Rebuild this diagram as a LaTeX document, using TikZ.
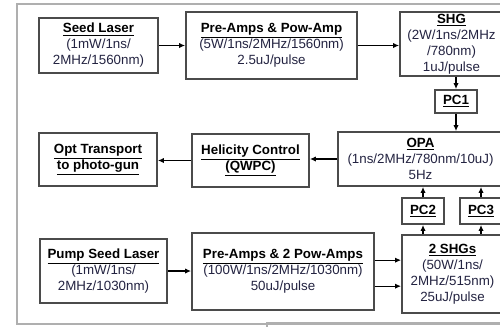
\documentclass[tikz,border=0pt]{standalone}
\usepackage{fontspec}
\setmainfont{Liberation Sans}
\usetikzlibrary{arrows.meta, positioning}
\definecolor{boxgray}{RGB}{75,75,75}
\definecolor{framegray}{RGB}{175,175,175}
\definecolor{spectext}{RGB}{35,35,65}

\newcommand{\hd}[1]{\textbf{\underline{#1}}}

\begin{document}
\begin{tikzpicture}[
			x=0.75pt, y=-0.75pt,
			stage/.style={rectangle, draw=boxgray, line width=1.3pt, fill=white, inner sep=0pt, align=center, text=spectext, font=\fontsize{10}{12}\selectfont},
			arrow/.style={-{Latex[length=1.6mm, width=1.4mm]}, line width=1pt}
			]
			\clip (0,0) rectangle (500,326);
			\useasboundingbox (0,0) rectangle (500,326);
			\draw[framegray, line width=1.2pt] (17,4) rectangle (530,324);
			\draw[framegray, line width=1pt] (267,323) rectangle (530,345);
			
			% upper chain (1560 nm)
			\node[stage, minimum width=89.25pt, minimum height=41.25pt] (seed) at (98.5,45.5) {\textcolor{black}{\hd{Seed Laser}}\\(1mW/1ns/\\2MHz/1560nm)};
			\node[stage, minimum width=128.25pt, minimum height=50.25pt] (preamp) at (271.5,45.5) {\textcolor{black}{\hd{Pre-Amps \& Pow-Amp}}\\(5W/1ns/2MHz/1560nm)\\2.5uJ/pulse};
			\node[stage, minimum width=77.25pt, minimum height=48pt] (shg) at (451.5,44) {\textcolor{black}{\hd{SHG}}\\(2W/1ns/2MHz\\/780nm)\\1uJ/pulse};
			\node[stage, minimum width=31.5pt, minimum height=17.25pt] (pc1) at (456,101.5) {\textcolor{black}{\hd{PC1}}};
			
			% middle row
			\node[stage, minimum width=123.75pt, minimum height=40.5pt] (opa) at (420.5,159) {\textcolor{black}{\hd{OPA}}\\(1ns/2MHz/780nm/10uJ)\\5Hz};
			\node[stage, minimum width=87.75pt, minimum height=39.75pt] (heli) at (250.5,160.5) {\textcolor{black}{\hd{Helicity Control}}\\\textcolor{black}{\hd{(QWPC)}}};
			\node[stage, minimum width=88.5pt, minimum height=39.75pt] (opt) at (98,159.5) {\textcolor{black}{\hd{Opt Transport}}\\\textcolor{black}{\hd{to photo-gun}}};
			\node[stage, minimum width=31.5pt, minimum height=19.5pt] (pc2) at (423,211) {\textcolor{black}{\hd{PC2}}};
			\node[stage, minimum width=31.5pt, minimum height=19.5pt] (pc3) at (481,211) {\textcolor{black}{\hd{PC3}}};
			
			% pump chain (1030 nm)
			\node[stage, minimum width=95.25pt, minimum height=48pt] (pumpseed) at (103.5,271) {\textcolor{black}{\hd{Pump Seed Laser}}\\(1mW/1ns/\\2MHz/1030nm)};
			\node[stage, minimum width=136.5pt, minimum height=57.75pt] (pumpamp) at (283,271.5) {\textcolor{black}{\hd{Pre-Amps \& 2 Pow-Amps}}\\(100W/1ns/2MHz/1030nm)\\50uJ/pulse};
			\node[stage, minimum width=75.75pt, minimum height=58.5pt] (shgs) at (452.5,274) {\textcolor{black}{\hd{2 SHGs}}\\(50W/1ns/\\2MHz/515nm)\\25uJ/pulse};
			
			\draw[arrow] (seed.east) -- (seed.east -| preamp.west);
			\draw[arrow] (preamp.east) -- (preamp.east -| shg.west);
			\draw[arrow] (pc1.north |- shg.south) -- (pc1.north);
			\draw[arrow] (pc1.south) -- (pc1.south |- opa.north);
			\draw[arrow] (opa.west) -- (opa.west -| heli.east);
			\draw[arrow] (heli.west) -- (heli.west -| opt.east);
			\draw[arrow] (pc2.south |- shgs.north) -- (pc2.south);
			\draw[arrow] (pc3.south |- shgs.north) -- (pc3.south);
			\draw[arrow] (pc2.north) -- (pc2.north |- opa.south);
			\draw[arrow] (pc3.north) -- (pc3.north |- opa.south);
			\draw[arrow] (pumpseed.east) -- (pumpseed.east -| pumpamp.west);
			\draw[arrow] ([yshift=8.5pt]pumpamp.east) -- ([yshift=8.5pt]pumpamp.east -| shgs.west);
			\draw[arrow] ([yshift=-11pt]pumpamp.east) -- ([yshift=-11pt]pumpamp.east -| shgs.west);
		\end{tikzpicture}
\end{document}
